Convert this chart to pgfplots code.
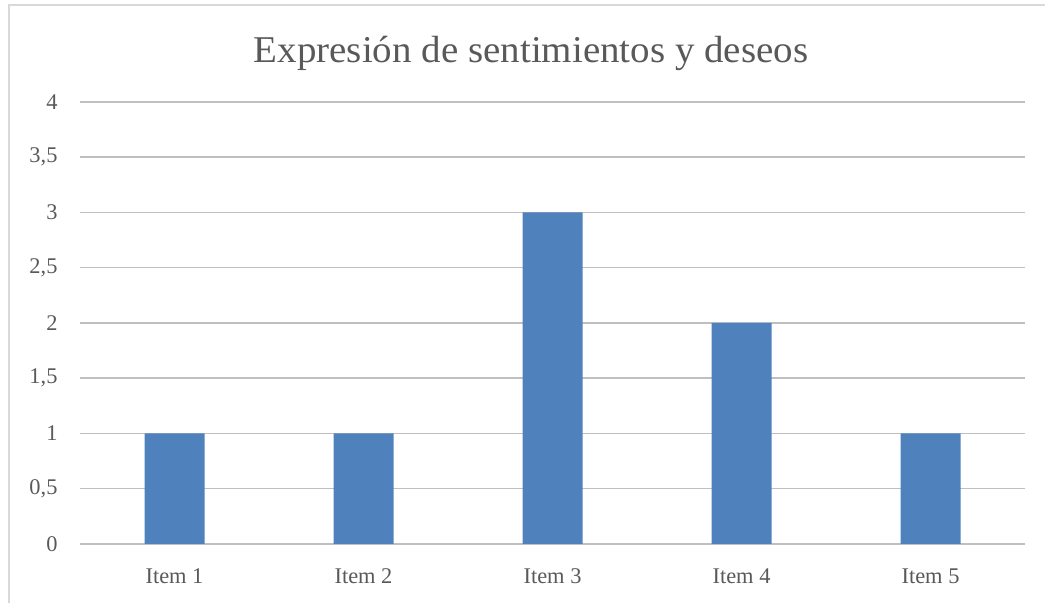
\documentclass[border=0pt]{standalone}
\usepackage{pgfplots}
\pgfplotsset{compat=1.18}
\usepackage{fontspec}
\setmainfont{Liberation Serif}
\definecolor{txt}{HTML}{595959}
\definecolor{grid}{HTML}{D9D9D9}
\definecolor{bar}{HTML}{4F81BD}
\begin{document}
\begin{tikzpicture}
\path[use as bounding box] (0,0) rectangle (1045bp,603bp);
\draw[grid, line width=1.5bp] (9bp,-5bp) -- (9bp,598bp) -- (1050bp,598bp);
\node[font=\fontsize{38}{44}\selectfont, text=txt, xscale=1.03] at (531bp,550bp) {Expresión de sentimientos y deseos};
\begin{axis}[
  at={(80bp,59bp)}, anchor=south west,
  scale only axis, width=945bp, height=442bp,
  xmin=-0.5, xmax=4.5, ymin=0, ymax=4,
  axis line style={draw=none},
  ytick={0,0.5,1,1.5,2,2.5,3,3.5,4},
  yticklabels={0,{0,5},1,{1,5},2,{2,5},3,{3,5},4},
  xtick={0,1,2,3,4},
  xticklabels={Item 1,Item 2,Item 3,Item 4,Item 5},
  major tick length=0pt, tick style={draw=none},
  xmajorgrids=false, ymajorgrids, grid style={grid, line width=1.5bp},
  tick label style={font=\fontsize{22.5}{26}\selectfont, text=txt},
  yticklabel style={xshift=-19bp},
  xticklabel style={yshift=-21bp},
  ybar, bar width=60bp,
]
\addplot[fill=bar, draw=none] coordinates {(0,1) (1,1) (2,3) (3,2) (4,1)};
\end{axis}
\end{tikzpicture}
\end{document}
